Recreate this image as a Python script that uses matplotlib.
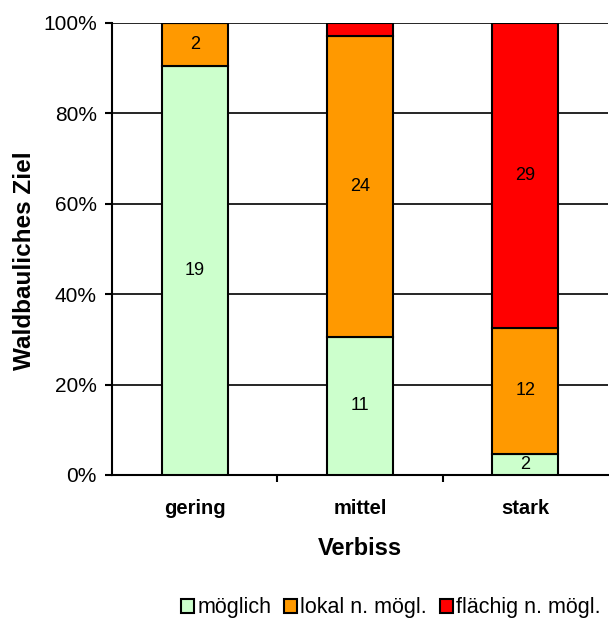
import matplotlib
matplotlib.use("Agg")
import matplotlib.pyplot as plt
import numpy as np
from matplotlib.patches import Patch

plt.rcParams['font.family'] = ['Liberation Sans', 'DejaVu Sans']

categories = ["gering", "mittel", "stark"]
series_names = ["möglich", "lokal n. mögl.", "flächig n. mögl."]
moeglich = [19, 11, 2]
lokal = [2, 24, 12]
flaechig = [0, 1, 29]
colors = ["#CCFFCC", "#FF9900", "#FF0000"]
ytick_labels = ["0%", "20%", "40%", "60%", "80%", "100%"]

data = np.array([moeglich, lokal, flaechig], dtype=float)
totals = data.sum(axis=0)
pct = data / totals * 100

fig = plt.figure(figsize=(6.09, 6.19), dpi=100)
ax = fig.add_axes([112/609, 1-475/619, (608-112)/609, (475-23)/619])

x = np.arange(len(categories))
bottom = np.zeros(len(categories))
for i, name in enumerate(series_names):
    ax.bar(x, pct[i], bottom=bottom, width=0.4, color=colors[i],
           edgecolor="black", linewidth=1.5, zorder=3)
    for j in range(len(categories)):
        if data[i, j] > 0 and pct[i, j] > 4:
            ax.text(x[j], bottom[j] + pct[i, j]/2, f"{int(data[i, j])}",
                    ha="center", va="center", fontsize=13, zorder=4)
    bottom += pct[i]

ax.set_xlim(-0.5, 2.5)
ax.set_ylim(0, 100)
ax.set_yticks(np.arange(0, 101, 20))
ax.set_yticklabels(ytick_labels, fontsize=15)
ax.yaxis.grid(True, color="black", linewidth=1.2, zorder=0)
ax.set_xticks(x)
ax.set_xticklabels(categories, fontsize=14.5, fontweight="bold")
ax.tick_params(axis="x", length=0, pad=17)
ax.set_xticks([0.5, 1.5], minor=True)
ax.tick_params(axis="x", which="minor", length=5, width=1.5, direction="out")
ax.tick_params(axis="y", length=5, width=1.5, direction="out", pad=6)

for s in ["top", "right"]:
    ax.spines[s].set_visible(False)
ax.spines["left"].set_linewidth(1.5)
ax.spines["bottom"].set_linewidth(1.5)

ax.set_xlabel("Verbiss", fontsize=17, fontweight="bold", labelpad=14)
ax.set_ylabel("Waldbauliches Ziel", fontsize=17.5, fontweight="bold")
ax.yaxis.set_label_coords((36-112)/496, (475-261)/452)

handles = [Patch(facecolor=c, edgecolor="black", linewidth=1.5) for c in colors]
fig.legend(handles, series_names, loc="center", bbox_to_anchor=(391/609, 1-608/619),
           ncol=3, frameon=False, fontsize=15.5, handlelength=0.6, handleheight=0.6,
           handletextpad=0.15, columnspacing=0.6, borderpad=0, borderaxespad=0)

fig.savefig("out.png", dpi=100)
